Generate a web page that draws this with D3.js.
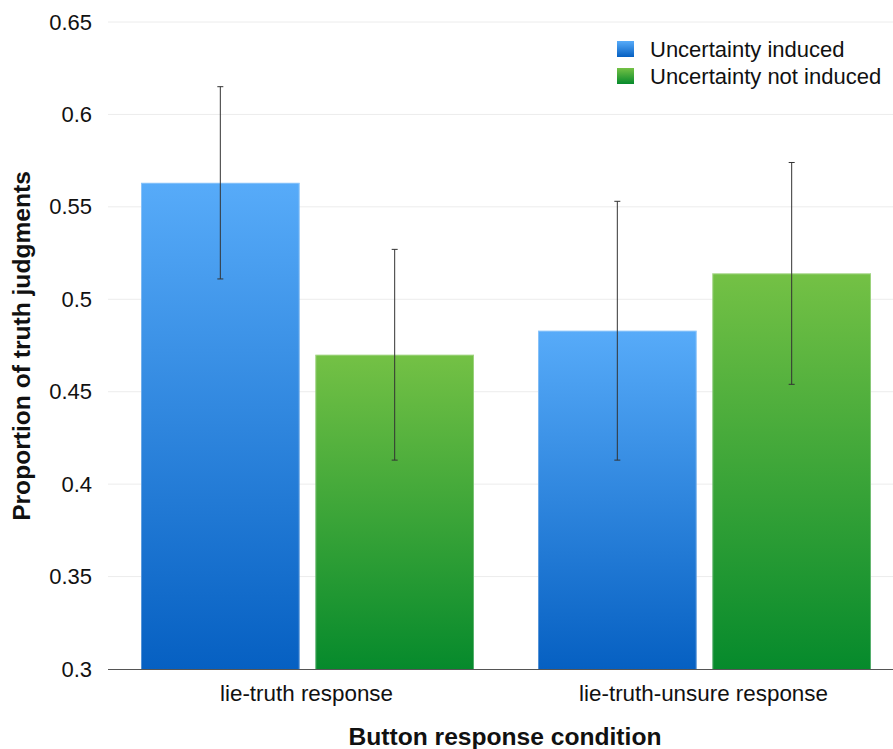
<!DOCTYPE html>
<html><head><meta charset="utf-8">
<script src="https://cdn.jsdelivr.net/npm/d3@7"></script>
<style>body{margin:0;background:#fff}svg{display:block;font-family:"Liberation Sans",Arial,sans-serif}</style>
</head><body><svg id="c" width="893" height="749"></svg>
<script>
const categories = ["lie-truth response", "lie-truth-unsure response"];
const seriesNames = ["Uncertainty induced", "Uncertainty not induced"];
const induced = [0.563, 0.483];
const notInduced = [0.470, 0.514];
const inducedLow = [0.511, 0.413];
const inducedHigh = [0.615, 0.553];
const notInducedLow = [0.413, 0.454];
const notInducedHigh = [0.527, 0.574];
const yTicks = [0.3, 0.35, 0.4, 0.45, 0.5, 0.55, 0.6, 0.65];

(function () {
const svg = d3.select("#c");
const mLeft = 108, mRight = 902, mTop = 22, mBottom = 669;
const y = d3.scaleLinear().domain([0.3, 0.65]).range([mBottom, mTop]);
const x0 = d3.scaleBand().domain(categories).range([mLeft, mRight]).paddingInner(0).paddingOuter(0);
const x1 = d3.scaleBand().domain(seriesNames).range([33, x0.bandwidth() - 31]).paddingInner(0.09);

const defs = svg.append("defs");
const grads = [["gBlue", "#57abf9", "#0660c2"], ["gGreen", "#74c145", "#068a2c"]];
grads.forEach(([id, a, b]) => {
  const g = defs.append("linearGradient").attr("id", id).attr("x1", 0).attr("y1", 0).attr("x2", 0).attr("y2", 1);
  g.append("stop").attr("offset", 0).attr("stop-color", a);
  g.append("stop").attr("offset", 1).attr("stop-color", b);
});
const fills = ["url(#gBlue)", "url(#gGreen)"];

svg.append("g").selectAll("line").data(yTicks.slice(1)).join("line")
  .attr("x1", mLeft).attr("x2", 893).attr("y1", d => y(d)).attr("y2", d => y(d))
  .attr("stroke", "#ececec").attr("stroke-width", 1);

const yAxis = d3.axisLeft(y).tickValues(yTicks).tickFormat(d => String(+d.toFixed(2))).tickSize(0).tickPadding(16);
const yg = svg.append("g").attr("transform", `translate(${mLeft},0)`).call(yAxis);
yg.select(".domain").remove();
yg.selectAll("text").attr("font-size", 22).attr("fill", "#111").attr("font-family", "Liberation Sans, Arial, sans-serif");

const data = categories.map((c, i) => ({
  c, vals: [
    {s: seriesNames[0], v: induced[i], lo: inducedLow[i], hi: inducedHigh[i], k: 0},
    {s: seriesNames[1], v: notInduced[i], lo: notInducedLow[i], hi: notInducedHigh[i], k: 1}
  ]
}));
const grp = svg.append("g").selectAll("g").data(data).join("g")
  .attr("transform", d => `translate(${x0(d.c)},0)`);
grp.selectAll("rect").data(d => d.vals).join("rect")
  .attr("x", d => x1(d.s)).attr("width", x1.bandwidth())
  .attr("y", d => y(d.v)).attr("height", d => mBottom - y(d.v))
  .attr("fill", d => fills[d.k]);
grp.selectAll("path.edge").data(d => d.vals).join("path").attr("class", "edge")
  .attr("d", d => `M${x1(d.s)+0.5},${mBottom}V${y(d.v)+0.5}H${x1(d.s)+x1.bandwidth()-0.5}V${mBottom}`)
  .attr("fill", "none").attr("stroke", "#fff").attr("stroke-opacity", 0.3);

const eb = grp.selectAll("g.eb").data(d => d.vals).join("g").attr("class", "eb");
eb.append("line").attr("x1", d => x1(d.s) + x1.bandwidth()/2).attr("x2", d => x1(d.s) + x1.bandwidth()/2)
  .attr("y1", d => y(d.lo)).attr("y2", d => y(d.hi)).attr("stroke", "#333").attr("stroke-width", 1);
["lo", "hi"].forEach(k => {
  eb.append("line").attr("x1", d => x1(d.s) + x1.bandwidth()/2 - 3).attr("x2", d => x1(d.s) + x1.bandwidth()/2 + 3)
    .attr("y1", d => y(d[k])).attr("y2", d => y(d[k])).attr("stroke", "#333").attr("stroke-width", 1);
});

svg.append("line").attr("x1", mLeft).attr("x2", 893).attr("y1", mBottom + 0.5).attr("y2", mBottom + 0.5)
  .attr("stroke", "#555").attr("stroke-width", 1);
const xAxis = d3.axisBottom(x0).tickSize(0).tickPadding(16);
const xg = svg.append("g").attr("transform", `translate(0,${mBottom})`).call(xAxis);
xg.select(".domain").remove();
xg.selectAll("text").attr("font-size", 22.4).attr("fill", "#111").attr("font-family", "Liberation Sans, Arial, sans-serif");

svg.append("text").attr("x", 505).attr("y", 745).attr("text-anchor", "middle")
  .attr("font-size", 24.6).attr("font-weight", "bold").attr("fill", "#111").text("Button response condition");
svg.append("text").attr("transform", "translate(30,346) rotate(-90)").attr("text-anchor", "middle")
  .attr("font-size", 24.6).attr("font-weight", "bold").attr("fill", "#111").text("Proportion of truth judgments");

const lg = svg.append("g").selectAll("g").data(seriesNames).join("g")
  .attr("transform", (d, i) => `translate(617,${41 + i * 27})`);
lg.append("rect").attr("width", 17).attr("height", 16).attr("fill", (d, i) => fills[i]);
lg.append("text").attr("x", 33).attr("y", 15.5).attr("font-size", 22).attr("fill", "#111").text(d => d);
})();
</script></body></html>
